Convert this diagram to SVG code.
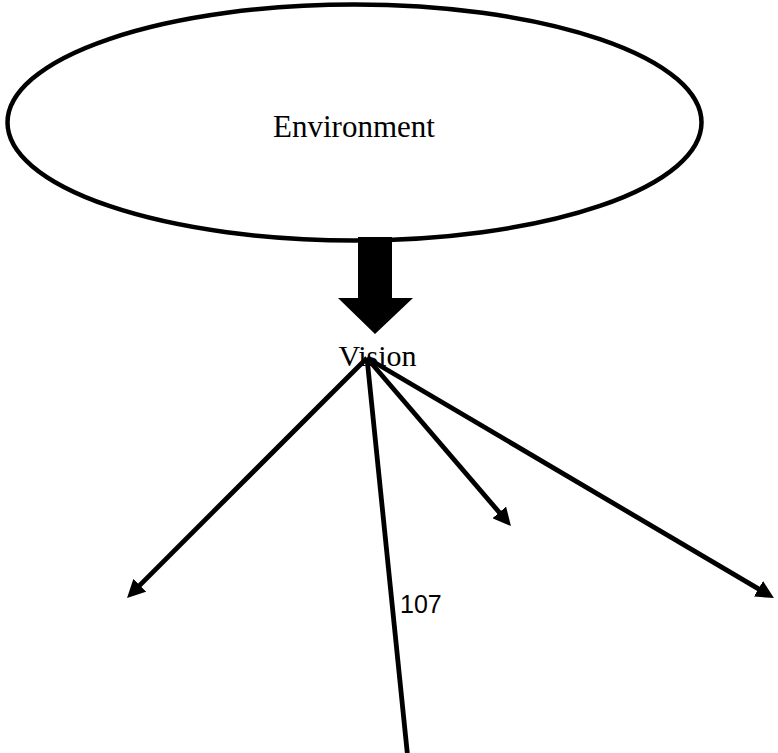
<svg xmlns="http://www.w3.org/2000/svg" width="778" height="753" viewBox="0 0 778 753">
  <style>
    .serif { font-family: "Liberation Serif", "Times New Roman", serif; fill: #000; }
    .sans { font-family: "Liberation Sans", Arial, sans-serif; fill: #000; }
    .edge { stroke: #000; stroke-width: 4.8; fill: none; }
  </style>
  <defs>
    <!-- filled arrowhead; the line ends 9px behind the tip -->
    <marker id="head" viewBox="0 -9 18 18" refX="9" refY="0" markerWidth="18" markerHeight="18" markerUnits="userSpaceOnUse" orient="auto">
      <path d="M0,-9 L18,0 L0,9 z" fill="#000"/>
    </marker>
  </defs>
  <rect width="778" height="753" fill="#fff"/>

  <g id="environment">
    <ellipse cx="354.5" cy="122.5" rx="347" ry="118" fill="#fff" stroke="#000" stroke-width="4.5"/>
    <text class="serif" x="354" y="137" font-size="31" text-anchor="middle">Environment</text>
  </g>

  <g id="block-arrow">
    <polygon points="358,237 392,237 392,298 413,298 375,334 338,298 358,298" fill="#000"/>
  </g>

  <g id="vision">
    <text class="serif" x="377.5" y="366" font-size="30" text-anchor="middle">Vision</text>
  </g>

  <g id="connectors">
    <line class="edge" x1="367" y1="358" x2="133.4" y2="591.6" marker-end="url(#head)"/>
    <line class="edge" x1="367" y1="358" x2="505.1" y2="519.2" marker-end="url(#head)"/>
    <line class="edge" x1="367" y1="358" x2="766.2" y2="593.4" marker-end="url(#head)"/>
    <line class="edge" x1="367" y1="358" x2="408" y2="760"/>
  </g>

  <g id="page-number">
    <text class="sans" x="400" y="613" font-size="25">107</text>
  </g>
</svg>
